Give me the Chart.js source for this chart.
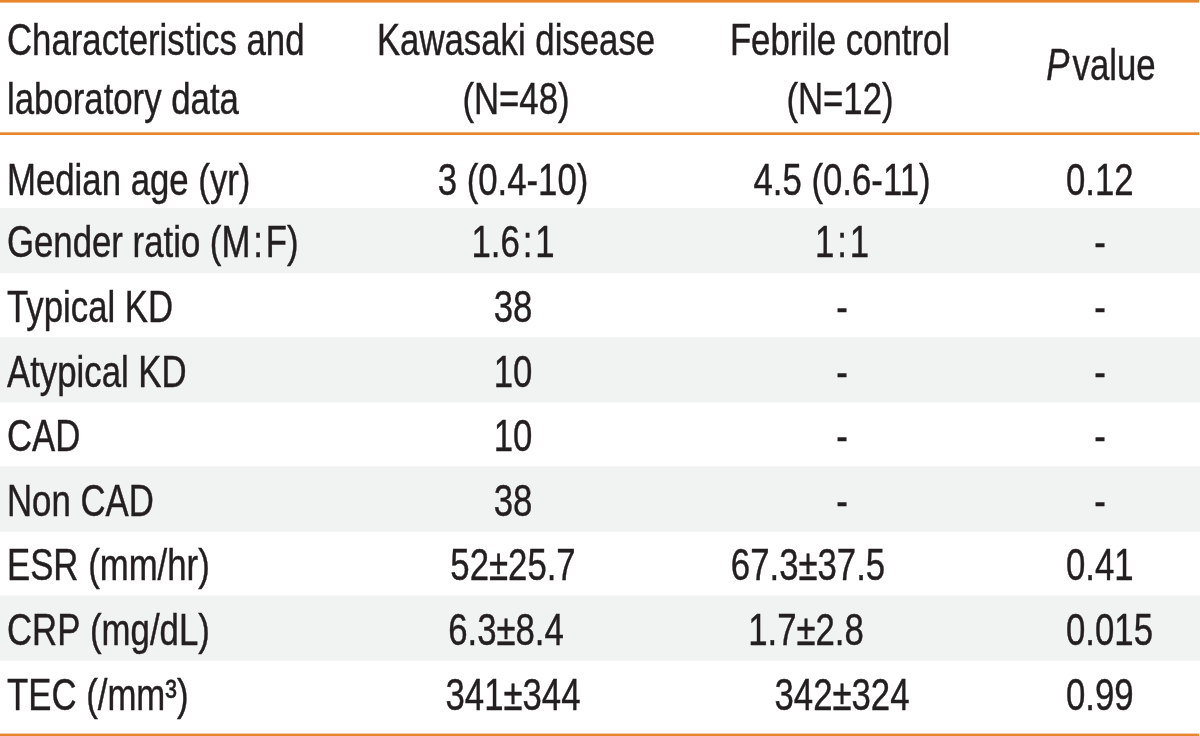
<!DOCTYPE html>
<html>
<head>
<meta charset="utf-8">
<script src="https://cdn.jsdelivr.net/npm/chart.js@4"></script>
<style>
  html,body{margin:0;padding:0;background:#fff;}
  #wrap{width:1200px;height:736px;}
</style>
</head>
<body>
<div id="wrap"><canvas id="tbl" width="1200" height="736"></canvas></div>
<script>
/* ---- table data ---- */
const headerCols = [
  ['Characteristics and', 'laboratory data'],
  ['Kawasaki disease', '(N=48)'],
  ['Febrile control', '(N=12)'],
  ['P value']
];
const rowLabels = ['Median age (yr)', 'Gender ratio (M\u200a:\u200aF)', 'Typical KD', 'Atypical KD', 'CAD', 'Non CAD', 'ESR (mm/hr)', 'CRP (mg/dL)', 'TEC (/mm\u00b3)'];
const kawasaki  = ['3 (0.4-10)', '1.6\u200a:\u200a1', '38', '10', '10', '38', '52±25.7', '6.3±8.4', '341±344'];
const febrile   = ['4.5 (0.6-11)', '1\u200a:\u200a1', '-', '-', '-', '-', '67.3±37.5', '1.7±2.8', '342±324'];
const pValues   = ['0.12', '-', '-', '-', '-', '-', '0.41', '0.015', '0.99'];
const striped   = [false, true, false, true, false, true, false, true, false];

/* ---- look ---- */
const ORANGE = '#e8862e', INK = '#231f20', STRIPE = '#f1f2f2';
const FS = 44, SX = 0.79;                      // font size, horizontal squeeze (condensed face)
const FONT = '"Liberation Sans", Arial, sans-serif';
const colX = [7, 513, 842, 1066];              // anchors on the x scale
const nudge = {'6,2':-34, '7,2':-36, '7,1':-7}; // hand-set offsets as in the print

function txt(ctx, s, x, cy, align, italic){
  ctx.save();
  ctx.font = (italic?'italic ':'') + FS + 'px ' + FONT;
  ctx.fillStyle = INK;
  ctx.strokeStyle = INK;
  ctx.lineWidth = 0.45;
  ctx.textBaseline = 'alphabetic';
  const w = ctx.measureText(s).width*SX;
  let x0 = x;
  if(align==='center') x0 = x - w/2;
  else if(align==='right') x0 = x - w;
  ctx.translate(x0, cy + FS*0.358);
  ctx.scale(SX,1);
  ctx.textAlign = 'left';
  ctx.fillText(s, 0, 0);
  ctx.strokeText(s, 0, 0);
  ctx.restore();
  return w;
}

function hline(ctx, y, t){
  ctx.save(); ctx.fillStyle = ORANGE; ctx.fillRect(0, y, 1199, t); ctx.restore();
}

const tablePlugin = {
  id:'tablePlugin',
  afterDatasetsDraw(chart){
    const ctx = chart.ctx, xs = chart.scales.x, ys = chart.scales.y;
    const px = i => xs.getPixelForValue(colX[i]);

    /* rules */
    hline(ctx, 0, 2.6);
    hline(ctx, 132.3, 2.7);
    hline(ctx, 733.6, 2.6);

    /* header */
    txt(ctx, headerCols[0][0], px(0), 39, 'left');
    txt(ctx, headerCols[0][1], px(0), 98, 'left');
    txt(ctx, headerCols[1][0], 516, 39, 'center');
    txt(ctx, headerCols[1][1], 516, 98, 'center');
    txt(ctx, headerCols[2][0], 840, 39, 'center');
    txt(ctx, headerCols[2][1], 840, 98, 'center');
    // P value: italic P + upright "value"
    ctx.save(); ctx.font = 'italic '+FS+'px '+FONT;
    const wP = ctx.measureText('P').width*SX; ctx.font = FS+'px '+FONT;
    const wV = ctx.measureText('value').width*SX; ctx.restore();
    const gap = 3, startP = 1101 - (wP+gap+wV)/2;
    txt(ctx, 'P', startP, 64, 'left', true);
    txt(ctx, 'value', startP + wP + gap, 64, 'left');

    /* body cells, rows placed by the category scale */
    rowLabels.forEach((lab,i)=>{
      const cy = ys.getPixelForValue(i) + (i===0?3:1);
      txt(ctx, lab, px(0), cy, 'left');
      [kawasaki[i], febrile[i]].forEach((v,j)=>{
        const c = j+1, dx = nudge[i+','+c]||0;
        txt(ctx, v, (v==='-' && c===1 ? 516 : px(c)) + dx, cy, 'center');
      });
      const p = pValues[i];
      if(p==='-') txt(ctx, p, 1100, cy, 'center');
      else txt(ctx, p, px(3), cy, 'left');
    });
  }
};

new Chart(document.getElementById('tbl'), {
  type:'bar',
  data:{
    labels: rowLabels,
    datasets:[{
      data: striped.map(s => s ? [0,1200] : null),
      backgroundColor: STRIPE,
      borderWidth: 0,
      barPercentage: 1,
      categoryPercentage: 1
    }]
  },
  options:{
    indexAxis:'y',
    responsive:false,
    animation:false,
    layout:{padding:{top:143.7, bottom:10.9, left:0, right:0}},
    scales:{
      x:{type:'linear', min:0, max:1200, display:false},
      y:{type:'category', display:false, offset:true}
    },
    plugins:{legend:{display:false}, tooltip:{enabled:false}}
  },
  plugins:[tablePlugin]
});
</script>
</body>
</html>
